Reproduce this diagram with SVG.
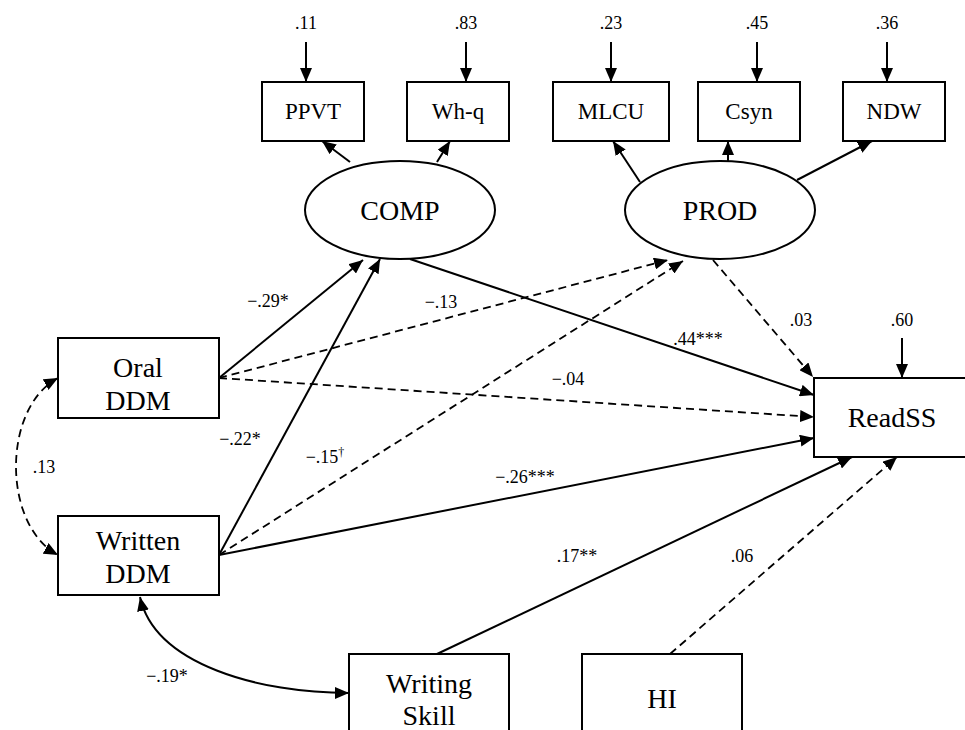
<svg xmlns="http://www.w3.org/2000/svg" width="965" height="730" viewBox="0 0 965 730">
<defs>
<marker id="ah" markerUnits="userSpaceOnUse" markerWidth="14" markerHeight="12" refX="14" refY="6" orient="auto-start-reverse" viewBox="0 0 14 12">
<path d="M0,0 L14,6 L0,12 z" fill="#000"/>
</marker>
</defs>
<style>
.box{fill:#fff;stroke:#000;stroke-width:2}
.ell{fill:#fff;stroke:#000;stroke-width:2}
.nl{font-family:"Liberation Serif","Times New Roman",serif;font-size:28px;text-anchor:middle;fill:#000}
.il{font-family:"Liberation Serif","Times New Roman",serif;font-size:23px;text-anchor:middle;fill:#000}
.lb{font-family:"Liberation Serif","Times New Roman",serif;font-size:18px;text-anchor:middle;fill:#000}
.sol{fill:none;stroke:#000;stroke-width:2;marker-end:url(#ah)}
.dsh{fill:none;stroke:#000;stroke-width:1.8;stroke-dasharray:8 5;marker-end:url(#ah)}
.both{marker-start:url(#ah)}
</style>
<g id="connectors">
<line class="sol" x1="306" y1="42" x2="306" y2="82"/>
<line class="sol" x1="466" y1="42" x2="466" y2="82"/>
<line class="sol" x1="611" y1="42" x2="611" y2="82"/>
<line class="sol" x1="757" y1="42" x2="757" y2="82"/>
<line class="sol" x1="887" y1="42" x2="887" y2="82"/>
<line class="sol" x1="902" y1="338" x2="902" y2="378"/>
<line class="sol" x1="350" y1="162" x2="322" y2="141"/>
<line class="sol" x1="437" y1="162" x2="450" y2="141"/>
<line class="sol" x1="640" y1="182" x2="613" y2="141"/>
<line class="sol" x1="728" y1="162" x2="728" y2="141"/>
<line class="sol" x1="797" y1="180" x2="872" y2="141"/>
<line class="sol" x1="219" y1="378" x2="363" y2="260"/>
<line class="sol" x1="219" y1="555" x2="380" y2="259"/>
<line class="dsh" x1="219" y1="378" x2="668" y2="260"/>
<line class="dsh" x1="219" y1="555" x2="683" y2="261"/>
<line class="dsh" x1="219" y1="378" x2="814" y2="417"/>
<line class="sol" x1="219" y1="555" x2="814" y2="438"/>
<line class="sol" x1="410" y1="259" x2="814" y2="395"/>
<line class="dsh" x1="713" y1="260" x2="813" y2="377"/>
<line class="sol" x1="437" y1="654" x2="852" y2="457"/>
<line class="dsh" x1="670" y1="654" x2="897" y2="457"/>
<path class="dsh both" d="M58,378 C2,408 2,525 58,555"/>
<path class="sol both" d="M140,597 C155,665 260,693 349,693"/>
</g>
<g id="labels">
<text class="lb" x="306" y="29">.11</text>
<text class="lb" x="466" y="29">.83</text>
<text class="lb" x="611" y="29">.23</text>
<text class="lb" x="757" y="29">.45</text>
<text class="lb" x="887" y="29">.36</text>
<text class="lb" x="902" y="326">.60</text>
<text class="lb" x="801" y="326">.03</text>
<text class="lb" x="698" y="345">.44***</text>
<text class="lb" x="568" y="385">−.04</text>
<text class="lb" x="441" y="308">−.13</text>
<text class="lb" x="268" y="307">−.29*</text>
<text class="lb" x="240" y="445">−.22*</text>
<text class="lb" x="325" y="463">−.15<tspan font-size="12" dy="-7">†</tspan></text>
<text class="lb" x="44" y="473">.13</text>
<text class="lb" x="525" y="483">−.26***</text>
<text class="lb" x="577" y="562">.17**</text>
<text class="lb" x="742" y="562">.06</text>
<text class="lb" x="167" y="682">−.19*</text>
</g>
<g id="PPVT"><rect class="box" x="262" y="82" width="102" height="59"/><text class="il" x="313" y="119">PPVT</text></g>
<g id="Whq"><rect class="box" x="407" y="82" width="102" height="59"/><text class="il" x="458" y="119">Wh-q</text></g>
<g id="MLCU"><rect class="box" x="553" y="82" width="116" height="59"/><text class="il" x="611" y="119">MLCU</text></g>
<g id="Csyn"><rect class="box" x="698" y="82" width="102" height="59"/><text class="il" x="749" y="119">Csyn</text></g>
<g id="NDW"><rect class="box" x="843" y="82" width="102" height="59"/><text class="il" x="894" y="119">NDW</text></g>
<g id="COMP"><ellipse class="ell" cx="400" cy="210" rx="95" ry="49"/><text class="nl" x="400" y="220">COMP</text></g>
<g id="PROD"><ellipse class="ell" cx="720" cy="210" rx="95" ry="49"/><text class="nl" x="720" y="220">PROD</text></g>
<g id="OralDDM"><rect class="box" x="58" y="338" width="161" height="80"/><text class="nl" x="138" y="377">Oral</text><text class="nl" x="138" y="410">DDM</text></g>
<g id="WrittenDDM"><rect class="box" x="58" y="516" width="161" height="79"/><text class="nl" x="138" y="550">Written</text><text class="nl" x="138" y="583">DDM</text></g>
<g id="ReadSS"><rect class="box" x="814" y="378" width="160" height="79"/><text class="nl" x="892" y="427">ReadSS</text></g>
<g id="WritingSkill"><rect class="box" x="349" y="654" width="160" height="90"/><text class="nl" x="429" y="693">Writing</text><text class="nl" x="429" y="725">Skill</text></g>
<g id="HI"><rect class="box" x="582" y="654" width="160" height="90"/><text class="nl" x="662" y="708">HI</text></g>
</svg>
